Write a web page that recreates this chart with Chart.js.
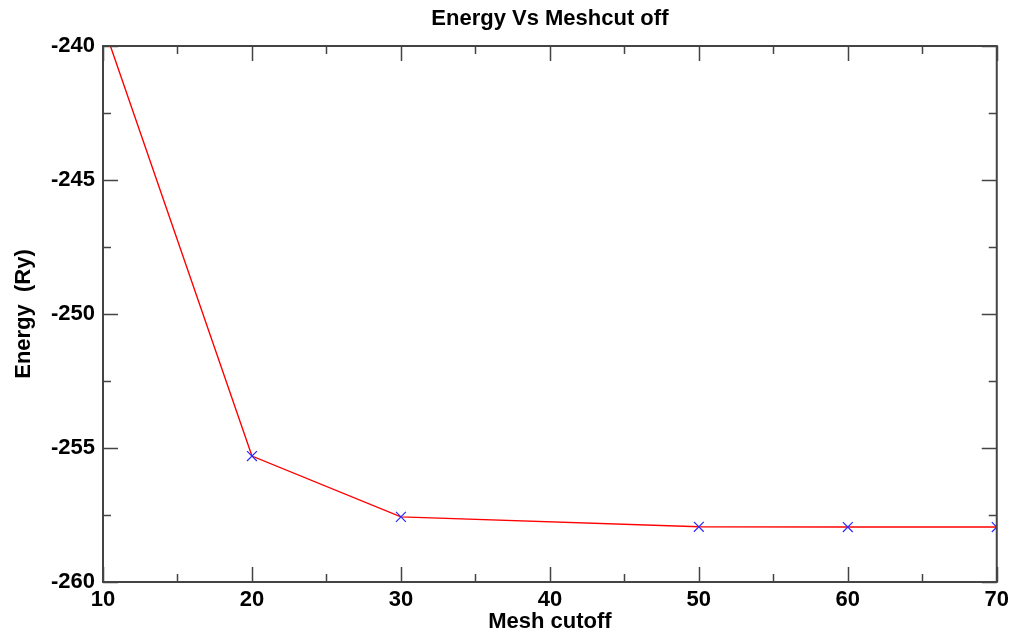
<!DOCTYPE html>
<html>
<head>
<meta charset="utf-8">
<title>Energy Vs Meshcut off</title>
<script src="https://cdn.jsdelivr.net/npm/chart.js@4.4.1/dist/chart.umd.min.js"></script>
<style>
    html, body { margin: 0; padding: 0; background: #fff; }
    #wrap { width: 1014px; height: 635px; }
</style>
</head>
<body>
<div id="wrap"><canvas id="chart" width="1014" height="635"></canvas></div>
<script>
// Valeurs
const meshCutoff = [10, 20, 30, 50, 60, 70];
const energy = [-239.2, -255.3, -257.57, -257.94, -257.95, -257.95];
const pointSizes = [0, 7, 7, 7, 7, 7];

const xTicks = [10, 20, 30, 40, 50, 60, 70];
const yTicks = [-240, -245, -250, -255, -260];

const chartTitle = 'Energy Vs Meshcut off';
const xTitle = 'Mesh cutoff';
const yTitle = 'Energy  (Ry)';

const labelFont = { family: '"Liberation Sans", Arial, sans-serif', weight: 'bold', size: 22 };

// Cadre + graduations vers l'intérieur, sur les quatre côtés
const frameTicks = {
    id: 'frameTicks',
    afterDraw(chart) {
        const ctx = chart.ctx;
        const area = chart.chartArea;
        const xs = chart.scales.x;
        const ys = chart.scales.y;
        ctx.save();
        ctx.strokeStyle = '#444';
        ctx.lineWidth = 1.5;
        ctx.beginPath();
        xs.ticks.forEach(t => {
            const px = Math.round(xs.getPixelForValue(t.value)) + 0.5;
            const len = xTicks.includes(t.value) ? 15 : 8;
            ctx.moveTo(px, area.bottom); ctx.lineTo(px, area.bottom - len);
            ctx.moveTo(px, area.top); ctx.lineTo(px, area.top + len);
        });
        ys.ticks.forEach(t => {
            const py = Math.round(ys.getPixelForValue(t.value)) + 0.5;
            const len = yTicks.includes(t.value) ? 15 : 8;
            ctx.moveTo(area.left, py); ctx.lineTo(area.left + len, py);
            ctx.moveTo(area.right, py); ctx.lineTo(area.right - len, py);
        });
        ctx.stroke();
        ctx.lineWidth = 2;
        ctx.strokeRect(area.left, area.top, area.right - area.left, area.bottom - area.top);

        // titre centré sur la zone du tracé
        ctx.fillStyle = '#000';
        ctx.font = 'bold 22px "Liberation Sans", Arial, sans-serif';
        ctx.textAlign = 'center';
        ctx.textBaseline = 'middle';
        ctx.fillText(chartTitle, (area.left + area.right) / 2, 19);
        ctx.restore();
    }
};

new Chart(document.getElementById('chart'), {
    type: 'line',
    data: {
        datasets: [{
            label: 'Energy',
            data: meshCutoff.map((x, i) => ({ x: x, y: energy[i] })),
            borderColor: '#ff0000',
            borderWidth: 1.4,
            pointStyle: 'crossRot',
            pointRadius: pointSizes,
            pointBorderColor: '#2a2aff',
            pointBorderWidth: 1.2,
            pointHoverRadius: 0,
            tension: 0,
            clip: 0
        }]
    },
    options: {
        responsive: false,
        animation: false,
        layout: { padding: { top: 46, right: 17, left: 0, bottom: 0 } },
        plugins: {
            legend: { display: false },
            tooltip: { enabled: false },
            title: { display: false }
        },
        scales: {
            x: {
                type: 'linear',
                min: 10,
                max: 70,
                grid: { display: false, drawTicks: false },
                border: { display: false },
                ticks: {
                    stepSize: 5,
                    autoSkip: false,
                    maxRotation: 0,
                    padding: 5,
                    color: '#000',
                    font: labelFont,
                    callback: v => (xTicks.includes(v) ? String(v) : '')
                },
                title: {
                    display: true,
                    text: xTitle,
                    color: '#000',
                    font: labelFont,
                    padding: { top: 0, bottom: 0 }
                },
                afterFit(scale) { scale.height = 53; }
            },
            y: {
                type: 'linear',
                min: -260,
                max: -240,
                grid: { display: false, drawTicks: false },
                border: { display: false },
                ticks: {
                    stepSize: 2.5,
                    autoSkip: false,
                    padding: 8,
                    color: '#000',
                    font: labelFont,
                    callback: v => (yTicks.includes(v) ? String(v) : '')
                },
                title: {
                    display: true,
                    text: yTitle,
                    color: '#000',
                    font: labelFont,
                    padding: { top: 11, bottom: 0 }
                },
                afterFit(scale) { scale.width = 103; }
            }
        }
    },
    plugins: [frameTicks]
});
</script>
</body>
</html>
